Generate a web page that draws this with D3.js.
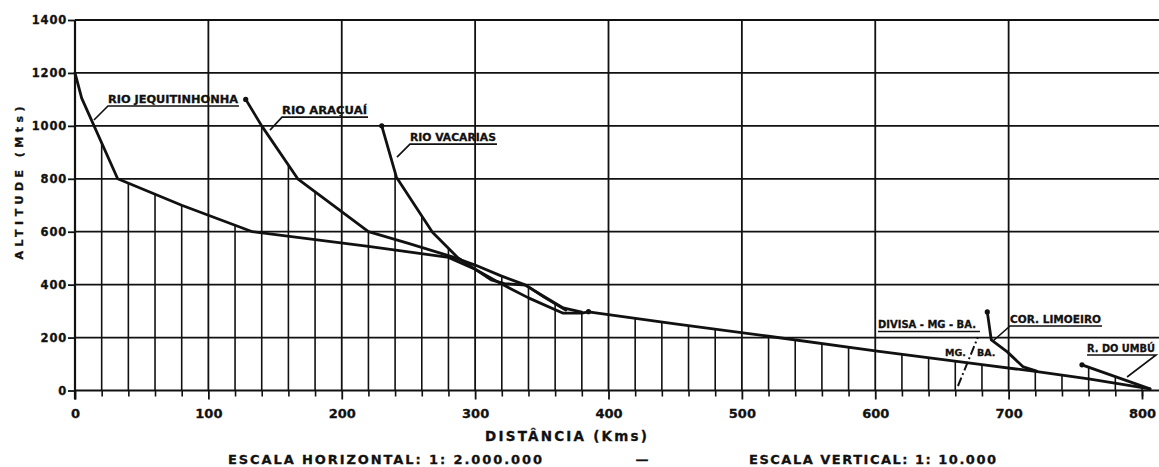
<!DOCTYPE html>
<html>
<head>
<meta charset="utf-8">
<script src="https://cdn.jsdelivr.net/npm/d3@7"></script>
<style>
  html, body { margin: 0; padding: 0; background: #fff; }
  svg { display: block; }
  text { font-family: "DejaVu Sans", sans-serif; font-weight: bold; fill: #111; stroke: #111; stroke-width: 0.3px; }
</style>
</head>
<body>
<svg id="chart" width="1159" height="467"></svg>
<script>
// Longitudinal profile of the Jequitinhonha and tributaries: distance (km) vs altitude (m)

// tick values
const xTicks = [0, 100, 200, 300, 400, 500, 600, 700, 800];
const yTicks = [0, 200, 400, 600, 800, 1000, 1200, 1400];
const hatchKm = [20, 40, 60, 80, 120, 140, 160, 180, 220, 240, 260, 280, 320, 340, 360, 380,
                 420, 440, 460, 480, 520, 540, 560, 580, 620, 640, 660, 680, 720, 740, 760, 780, 800];
const majorKm = [100, 200, 300, 400, 500, 600, 700];

// river profiles [km, m]
const jequitinhonha = [[0, 1200], [5, 1105], [32, 800], [80, 700], [133, 600], [220, 545], [280, 503],
                       [300, 458], [320, 402], [340, 350], [366, 292], [380, 292], [385, 297],
                       [450, 252], [520, 205], [600, 150], [680, 98], [720, 72], [760, 44], [806, 6]];
const aracuai = [[128, 1100], [140, 1000], [167, 800], [220, 600], [250, 556], [283, 505], [300, 474],
                 [319, 434], [337, 400], [351, 357], [366, 312], [380, 296]];
const vacarias = [[230, 1000], [241, 806], [268, 598], [287, 502], [312, 418], [322, 404], [338, 398],
                  [352, 352], [368, 304]];
const limoeiro = [[684, 297], [687, 191], [699, 146], [711, 89], [721, 73]];
const umbu = [[755, 97], [806, 6]];
const divisa = [[662, 17], [677, 202]];
const confluence = [[385, 298]];

const W = 1159, H = 467;
const svg = d3.select("#chart");

const x = d3.scaleLinear().domain([0, 800]).range([75, 1142]);
const y = d3.scaleLinear().domain([0, 1400]).range([390.5, 20]);
const ink = "#111";

// altitude of a profile at a given distance (null outside its extent)
function altAt(profile, km) {
  if (km < profile[0][0] || km > profile[profile.length - 1][0]) return null;
  for (let i = 1; i < profile.length; i++) {
    const [x0, y0] = profile[i - 1], [x1, y1] = profile[i];
    if (km >= x0 && km <= x1) return y0 + (y1 - y0) * (km - x0) / (x1 - x0);
  }
  return null;
}
const hatchProfiles = [jequitinhonha, aracuai, vacarias, limoeiro, umbu];

// horizontal grid
svg.append("g").selectAll("line").data(yTicks).join("line")
  .attr("x1", x(0)).attr("x2", W)
  .attr("y1", d => y(d)).attr("y2", d => y(d))
  .attr("stroke", ink).attr("stroke-width", 1.8);

// major vertical grid
svg.append("g").selectAll("line").data(majorKm).join("line")
  .attr("x1", d => x(d)).attr("x2", d => x(d))
  .attr("y1", y(0)).attr("y2", y(1400))
  .attr("stroke", ink).attr("stroke-width", 1.8);

// hatching under the profiles every 20 km
svg.append("g").selectAll("line").data(hatchKm).join("line")
  .attr("x1", d => x(d)).attr("x2", d => x(d))
  .attr("y1", y(0))
  .attr("y2", d => {
    const vals = hatchProfiles.map(p => altAt(p, d)).filter(v => v !== null);
    return y(vals.length ? d3.max(vals) : 0);
  })
  .attr("stroke", ink).attr("stroke-width", 1.6);

// left axis line, extended a little below zero
svg.append("line")
  .attr("x1", x(0)).attr("x2", x(0))
  .attr("y1", y(1400)).attr("y2", y(0) + 9)
  .attr("stroke", ink).attr("stroke-width", 2.2);

// y axis ticks and labels
const yAxis = svg.append("g").attr("transform", `translate(${x(0)},0)`)
  .call(d3.axisLeft(y).tickValues(yTicks).tickSize(7).tickPadding(1).tickFormat(d3.format("d")));
yAxis.select(".domain").remove();
yAxis.attr("font-family", null).attr("font-size", null);
yAxis.selectAll(".tick line").attr("stroke", ink).attr("stroke-width", 1.8);
yAxis.selectAll(".tick text").style("font-size", "11.5px").attr("letter-spacing", "0.8");

// x axis: minor ticks every 20 km
const xMinor = svg.append("g").attr("transform", `translate(0,${y(0)})`)
  .call(d3.axisBottom(x).tickValues(hatchKm).tickSize(6).tickFormat(""));
xMinor.select(".domain").remove();
xMinor.selectAll(".tick line").attr("stroke", ink).attr("stroke-width", 1.6);

// x axis: labelled ticks
const xAxis = svg.append("g").attr("transform", `translate(0,${y(0)})`)
  .call(d3.axisBottom(x).tickValues(xTicks).tickSize(9).tickPadding(9).tickFormat(d3.format("d")));
xAxis.select(".domain").remove();
xAxis.attr("font-family", null).attr("font-size", null);
xAxis.selectAll(".tick line").attr("stroke", ink).attr("stroke-width", 1.8);
xAxis.selectAll(".tick text").style("font-size", "13px");

// profiles
const line = d3.line().x(d => x(d[0])).y(d => y(d[1]));
const rivers = [jequitinhonha, aracuai, vacarias, limoeiro, umbu];
svg.append("g").selectAll("path").data(rivers).join("path")
  .attr("d", line)
  .attr("fill", "none").attr("stroke", ink)
  .attr("stroke-width", 2.8).attr("stroke-linejoin", "round").attr("stroke-linecap", "round");

// state border (dash-dot)
svg.append("path").datum(divisa).attr("d", line)
  .attr("fill", "none").attr("stroke", ink).attr("stroke-width", 2)
  .attr("stroke-dasharray", "9,3,2,3");

// source points and confluence dot
const dots = [aracuai[0], vacarias[0], limoeiro[0], umbu[0], ...confluence];
svg.append("g").selectAll("circle").data(dots).join("circle")
  .attr("cx", d => x(d[0])).attr("cy", d => y(d[1])).attr("r", 2.6).attr("fill", ink);

// river labels: leader from a point on the river to an underlined name
const labels = [
  { text: "RIO JEQUITINHONHA", at: [14.2, 1022], dx: 14, dy: -14, len: 131, side: "left" },
  { text: "RIO ARAÇUAÍ",       at: [146.2, 984], dx: 12, dy: -13, len: 86,  side: "left" },
  { text: "RIO VACARIAS",      at: [241.4, 882], dx: 13, dy: -13, len: 87,  side: "left" },
  { text: "COR. LIMOEIRO",     at: [688.3, 187], dx: 17, dy: -15, len: 92,  side: "left" },
  { text: "R. DO UMBÚ",        at: [788.8, 51],  dx: 29, dy: -22, len: 69,  side: "right" }
];
const lg = svg.append("g");
labels.forEach(l => {
  const tx = x(l.at[0]), ty = y(l.at[1]);
  const ux = tx + l.dx, uy = ty + l.dy;
  const pts = l.side === "left"
    ? [[tx, ty], [ux, uy], [ux + l.len, uy]]
    : [[tx, ty], [ux, uy], [ux - l.len, uy]];
  lg.append("path").attr("d", d3.line()(pts))
    .attr("fill", "none").attr("stroke", ink).attr("stroke-width", 1.6);
  const startX = l.side === "left" ? ux : ux - l.len;
  lg.append("text").attr("x", startX).attr("y", uy - 3.5)
    .attr("textLength", l.len - 1).attr("lengthAdjust", "spacingAndGlyphs")
    .style("font-size", "10.5px").text(l.text);
});

// border labels
const dTop = [x(divisa[1][0]), y(divisa[1][1])];
lg.append("line").attr("x1", dTop[0] - 100).attr("x2", dTop[0] + 2)
  .attr("y1", dTop[1] - 5.5).attr("y2", dTop[1] - 5.5)
  .attr("stroke", ink).attr("stroke-width", 1.6);
lg.append("text").attr("x", dTop[0] - 100).attr("y", dTop[1] - 9)
  .attr("textLength", 98).attr("lengthAdjust", "spacingAndGlyphs")
  .style("font-size", "10.5px").text("DIVISA - MG - BA.");
const dMid = [x((divisa[0][0] + divisa[1][0]) / 2), y((divisa[0][1] + divisa[1][1]) / 2)];
lg.append("text").attr("x", dMid[0] - 2).attr("y", dMid[1] - 6).attr("text-anchor", "end")
  .style("font-size", "9.5px").text("MG.");
lg.append("text").attr("x", dMid[0] + 9).attr("y", dMid[1] - 6)
  .style("font-size", "9.5px").text("BA.");

// axis titles
svg.append("text")
  .attr("transform", "translate(23,183) rotate(-90)")
  .attr("text-anchor", "middle")
  .attr("textLength", 153).attr("lengthAdjust", "spacing")
  .style("font-size", "11px").text("ALTITUDE (Mts)");

svg.append("text").attr("x", 485).attr("y", 441)
  .attr("textLength", 162).attr("lengthAdjust", "spacing")
  .style("font-size", "13.5px").text("DISTÂNCIA (Kms)");

svg.append("text").attr("x", 228).attr("y", 464)
  .attr("textLength", 314).attr("lengthAdjust", "spacing")
  .style("font-size", "13px").text("ESCALA HORIZONTAL: 1: 2.000.000");

svg.append("text").attr("x", 642).attr("y", 464).attr("text-anchor", "middle")
  .style("font-size", "13px").text("—");

svg.append("text").attr("x", 749).attr("y", 464)
  .attr("textLength", 247).attr("lengthAdjust", "spacing")
  .style("font-size", "13px").text("ESCALA VERTICAL: 1: 10.000");
</script>
</body>
</html>
